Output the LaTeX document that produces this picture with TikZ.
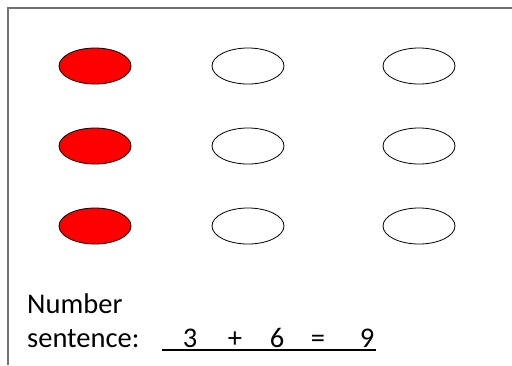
\documentclass[tikz,border=0pt]{standalone}
\usepackage{fontspec}
\setmainfont{Carlito}
\usetikzlibrary{shapes.geometric}
\begin{document}
\begin{tikzpicture}[x=1pt,y=-1pt,
  dot/.style={ellipse,draw=black,line width=0.8pt,minimum width=72pt,minimum height=36pt,inner sep=0pt},
  reddot/.style={dot,fill=red},
  whitedot/.style={dot,fill=white},
  txt/.style={font=\fontsize{28.5}{34}\selectfont,inner sep=0pt,anchor=base west},
  sym/.style={font=\fontsize{28.5}{34}\selectfont,inner sep=0pt,anchor=base}]
\useasboundingbox (0,0) rectangle (512,365);
\draw[gray!90!black,line width=1.5pt] (8,365) -- (8,8) -- (512,8);
\foreach \r/\y in {1/66,2/146,3/226}{
  \node[reddot] (r\r a) at (95,\y) {};
  \node[whitedot] (r\r b) at (248,\y) {};
  \node[whitedot] (r\r c) at (419,\y) {};
}
\node[txt] (num) at (27,313) {Number};
\node[txt] (sen) at (27,347) {sentence:};
\node[sym] (d3) at (190,347) {3};
\node[sym] (pl) at (235,347) {+};
\node[sym] (d6) at (277,347) {6};
\node[sym] (eq) at (318,347) {=};
\node[sym] (d9) at (367,347) {9};
\coordinate (ul1) at (162,350);
\coordinate (ul2) at (376,350);
\draw[line width=2pt] (ul1) -- (ul2);
\end{tikzpicture}
\end{document}
